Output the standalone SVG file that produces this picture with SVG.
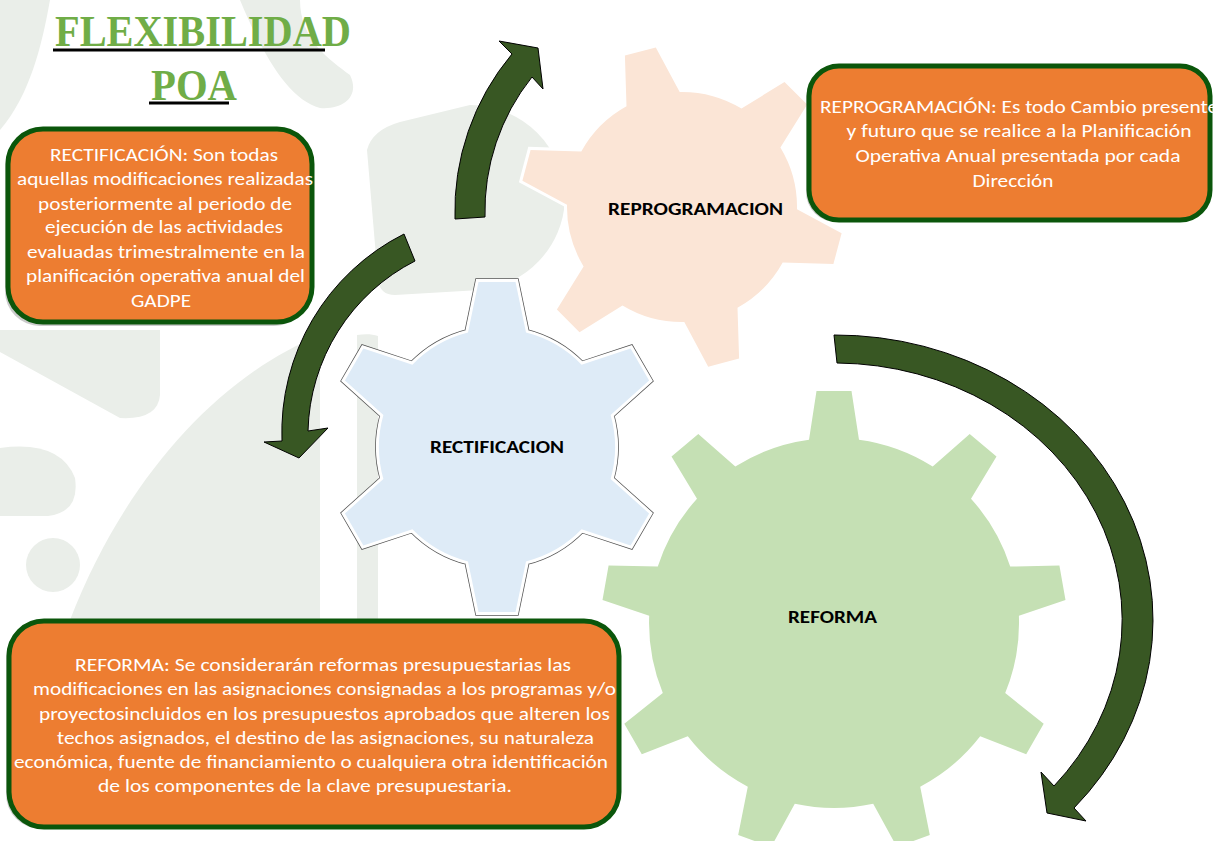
<svg xmlns="http://www.w3.org/2000/svg" width="1223" height="841" viewBox="0 0 1223 841">
<style>
.bg{fill:#EAEEE9}
.box{fill:#ED7D31;stroke:#0B560B;stroke-width:5}
.shadow{fill:#8C8C8C;opacity:.45}
.bt{font-family:Carlito,Lato,"Liberation Sans",sans-serif;font-size:18.5px;fill:#FFFFFF;text-anchor:middle}
.gl{font-family:Carlito,Lato,"Liberation Sans",sans-serif;font-size:17.5px;font-weight:bold;fill:#000000;text-anchor:middle}
.title{font-family:"Liberation Serif",serif;font-weight:bold;font-size:44px;fill:#70AD47;text-anchor:start}
.arrow{fill:#385723;stroke:#000000;stroke-width:1;stroke-linejoin:miter}
.halo{fill:none;stroke:#FFFFFF;stroke-width:6;stroke-linejoin:miter}
</style>
<rect width="1223" height="841" fill="#FFFFFF"/>
<g id="watermark">
<path class="bg" d="M0,0 H50 C42,45 30,95 0,130 Z"/>
<path class="bg" d="M240,0 H300 C300,40 330,60 350,75 C360,95 345,110 320,108 C290,100 265,60 240,0 Z"/>
<path class="bg" d="M0,330 H160 V395 Q158,420 120,418 L0,352 Z"/>
<path class="bg" d="M0,448 Q60,440 75,478 Q80,512 48,516 L0,516 Z"/>
<circle class="bg" cx="53" cy="565" r="27"/>
<path class="bg" d="M70,620 C120,490 210,380 320,335 L320,620 Z"/>
<path class="bg" d="M357,335 C365,334 372,334 378,336 L378,620 L357,620 Z"/>
<path class="bg" d="M367,150 Q372,130 400,122 L470,105 A95 95 0 0 1 565,200 A95 95 0 0 1 480,290 L395,295 Q380,295 378,280 Z"/>
</g>
<g id="title">
<text class="title" x="55" y="46" textLength="296" lengthAdjust="spacingAndGlyphs">FLEXIBILIDAD</text>
<line x1="53" y1="50" x2="325" y2="50" stroke="#000" stroke-width="3"/>
<text class="title" x="151" y="100" textLength="86" lengthAdjust="spacingAndGlyphs">POA</text>
<line x1="149" y1="103" x2="229" y2="103" stroke="#000" stroke-width="3"/>
</g>
<g id="gear-reprogramacion">
<path class="halo" d="M797.0,209.3 L841.6,233.2 L833.4,264.1 L782.7,262.5 A115 115 0 0 1 737.5,307.7 L739.1,358.4 L708.2,366.7 L684.3,322.0 A115 115 0 0 1 622.5,305.4 L579.5,332.2 L556.9,309.5 L583.6,266.5 A115 115 0 0 1 567.0,204.7 L522.4,180.8 L530.6,149.9 L581.3,151.5 A115 115 0 0 1 626.5,106.3 L624.9,55.6 L655.8,47.4 L679.7,92.0 A115 115 0 0 1 741.5,108.6 L784.5,81.9 L807.2,104.5 L780.4,147.5 A115 115 0 0 1 797.0,209.3 Z"/>
<path fill="#FBE5D6" d="M797.0,209.3 L841.6,233.2 L833.4,264.1 L782.7,262.5 A115 115 0 0 1 737.5,307.7 L739.1,358.4 L708.2,366.7 L684.3,322.0 A115 115 0 0 1 622.5,305.4 L579.5,332.2 L556.9,309.5 L583.6,266.5 A115 115 0 0 1 567.0,204.7 L522.4,180.8 L530.6,149.9 L581.3,151.5 A115 115 0 0 1 626.5,106.3 L624.9,55.6 L655.8,47.4 L679.7,92.0 A115 115 0 0 1 741.5,108.6 L784.5,81.9 L807.2,104.5 L780.4,147.5 A115 115 0 0 1 797.0,209.3 Z"/>
<text class="gl" x="695.5" y="215" textLength="175" lengthAdjust="spacingAndGlyphs">REPROGRAMACION</text>
</g>
<g id="gear-rectificacion">
<path fill="none" stroke="#555" stroke-width="7.5" stroke-linejoin="miter" d="M610.6,479.1 L649.1,513.5 L630.6,545.5 L581.6,529.3 A118 118 0 0 1 526,561.4 L515.5,612 L478.5,612 L468,561.4 A118 118 0 0 1 412.4,529.3 L363.4,545.5 L344.9,513.5 L383.4,479.1 A118 118 0 0 1 383.4,414.9 L344.9,380.5 L363.4,348.5 L412.4,364.7 A118 118 0 0 1 468,332.6 L478.5,282 L515.5,282 L526,332.6 A118 118 0 0 1 581.6,364.7 L630.6,348.5 L649.1,380.5 L610.6,414.9 A118 118 0 0 1 610.6,479.1 Z"/>
<path class="halo" d="M610.6,479.1 L649.1,513.5 L630.6,545.5 L581.6,529.3 A118 118 0 0 1 526,561.4 L515.5,612 L478.5,612 L468,561.4 A118 118 0 0 1 412.4,529.3 L363.4,545.5 L344.9,513.5 L383.4,479.1 A118 118 0 0 1 383.4,414.9 L344.9,380.5 L363.4,348.5 L412.4,364.7 A118 118 0 0 1 468,332.6 L478.5,282 L515.5,282 L526,332.6 A118 118 0 0 1 581.6,364.7 L630.6,348.5 L649.1,380.5 L610.6,414.9 A118 118 0 0 1 610.6,479.1 Z"/>
<path fill="#DEEBF7" d="M610.6,479.1 L649.1,513.5 L630.6,545.5 L581.6,529.3 A118 118 0 0 1 526,561.4 L515.5,612 L478.5,612 L468,561.4 A118 118 0 0 1 412.4,529.3 L363.4,545.5 L344.9,513.5 L383.4,479.1 A118 118 0 0 1 383.4,414.9 L344.9,380.5 L363.4,348.5 L412.4,364.7 A118 118 0 0 1 468,332.6 L478.5,282 L515.5,282 L526,332.6 A118 118 0 0 1 581.6,364.7 L630.6,348.5 L649.1,380.5 L610.6,414.9 A118 118 0 0 1 610.6,479.1 Z"/>
<text class="gl" x="497" y="453" textLength="134" lengthAdjust="spacingAndGlyphs">RECTIFICACION</text>
</g>
<g id="gear-reforma">
<path fill="#C5E0B4" d="M1010.2,566.6 L1059.4,565.5 L1065.5,600.0 L1018.9,615.8 A185 185 0 0 1 1005.2,693.0 L1043.7,723.8 L1026.2,754.2 L980.2,736.3 A185 185 0 0 1 920.2,786.7 L929.8,835.0 L896.9,847.0 L873.2,803.8 A185 185 0 0 1 794.8,803.8 L771.1,847.0 L738.2,835.0 L747.8,786.7 A185 185 0 0 1 687.8,736.3 L641.8,754.2 L624.3,723.8 L662.8,693.0 A185 185 0 0 1 649.2,615.8 L602.5,600.0 L608.6,565.5 L657.8,566.6 A185 185 0 0 1 697.0,498.7 L671.5,456.5 L698.3,434.0 L735.3,466.5 A185 185 0 0 1 809,439.7 L816.5,391 L851.5,391 L859,439.7 A185 185 0 0 1 932.7,466.5 L969.7,434.0 L996.5,456.5 L971.0,498.7 A185 185 0 0 1 1010.2,566.6 Z"/>
<text class="gl" x="832.5" y="623" textLength="89" lengthAdjust="spacingAndGlyphs">REFORMA</text>
</g>
<g id="box-rectificacion">
<rect class="shadow" x="5" y="131" width="304" height="195" rx="35"/>
<rect class="box" x="8" y="129" width="304" height="193" rx="35"/>
<text class="bt" x="164" y="161" textLength="228" lengthAdjust="spacingAndGlyphs">RECTIFICACIÓN: Son todas</text>
<text class="bt" x="165" y="185" textLength="296" lengthAdjust="spacingAndGlyphs">aquellas modificaciones realizadas</text>
<text class="bt" x="165" y="210" textLength="254" lengthAdjust="spacingAndGlyphs">posteriormente al periodo de</text>
<text class="bt" x="164" y="233" textLength="238" lengthAdjust="spacingAndGlyphs">ejecución de las actividades</text>
<text class="bt" x="166" y="258" textLength="278" lengthAdjust="spacingAndGlyphs">evaluadas trimestralmente en la</text>
<text class="bt" x="165.5" y="282" textLength="279" lengthAdjust="spacingAndGlyphs">planificación operativa anual del</text>
<text class="bt" x="161" y="307" textLength="60" lengthAdjust="spacingAndGlyphs">GADPE</text>
</g>
<g id="box-reprogramacion">
<rect class="shadow" x="806" y="68" width="401" height="154" rx="30"/>
<rect class="box" x="809" y="66" width="401" height="154" rx="30"/>
<text class="bt" x="1019" y="113" textLength="398" lengthAdjust="spacingAndGlyphs">REPROGRAMACIÓN: Es todo Cambio presente</text>
<text class="bt" x="1019" y="137" textLength="345" lengthAdjust="spacingAndGlyphs">y futuro que se realice a la Planificación</text>
<text class="bt" x="1018" y="162" textLength="325" lengthAdjust="spacingAndGlyphs">Operativa Anual presentada por cada</text>
<text class="bt" x="1013" y="187" textLength="81" lengthAdjust="spacingAndGlyphs">Dirección</text>
</g>
<g id="box-reforma">
<rect class="shadow" x="6" y="623" width="610" height="206" rx="35"/>
<rect class="box" x="9" y="621" width="610" height="206" rx="35"/>
<text class="bt" x="323" y="671" textLength="496" lengthAdjust="spacingAndGlyphs">REFORMA:  Se considerarán reformas presupuestarias las</text>
<text class="bt" x="324.5" y="695" textLength="583" lengthAdjust="spacingAndGlyphs">modificaciones en las asignaciones consignadas a los programas y/o</text>
<text class="bt" x="324.5" y="720" textLength="571" lengthAdjust="spacingAndGlyphs">proyectosincluidos en los presupuestos aprobados que alteren los</text>
<text class="bt" x="325.5" y="744" textLength="537" lengthAdjust="spacingAndGlyphs">techos asignados, el destino de las asignaciones, su naturaleza</text>
<text class="bt" x="311" y="768" textLength="594" lengthAdjust="spacingAndGlyphs">económica, fuente de financiamiento o cualquiera otra identificación</text>
<text class="bt" x="305" y="792" textLength="414" lengthAdjust="spacingAndGlyphs">de los componentes de la clave presupuestaria.</text>
</g>
<g id="connectors">
<path id="arrow-up" class="arrow" d="M455,219 A245 245 0 0 1 512,54 L499,41 L538,48 L543,89 L532,77 A215 215 0 0 0 485,217 Z"/>
<path id="arrow-left" class="arrow" d="M404,234 A222 222 0 0 0 282,441 L264,442 L299,458 L328,428 L308,431 A196 196 0 0 1 415,261 Z"/>
<path id="arrow-right" class="arrow" d="M834,335 A318 285 0 0 1 1074,808 L1086,821 L1047,813 L1041,772 L1054,786 A288 257 0 0 0 837,363 Z"/>
</g>
</svg>
